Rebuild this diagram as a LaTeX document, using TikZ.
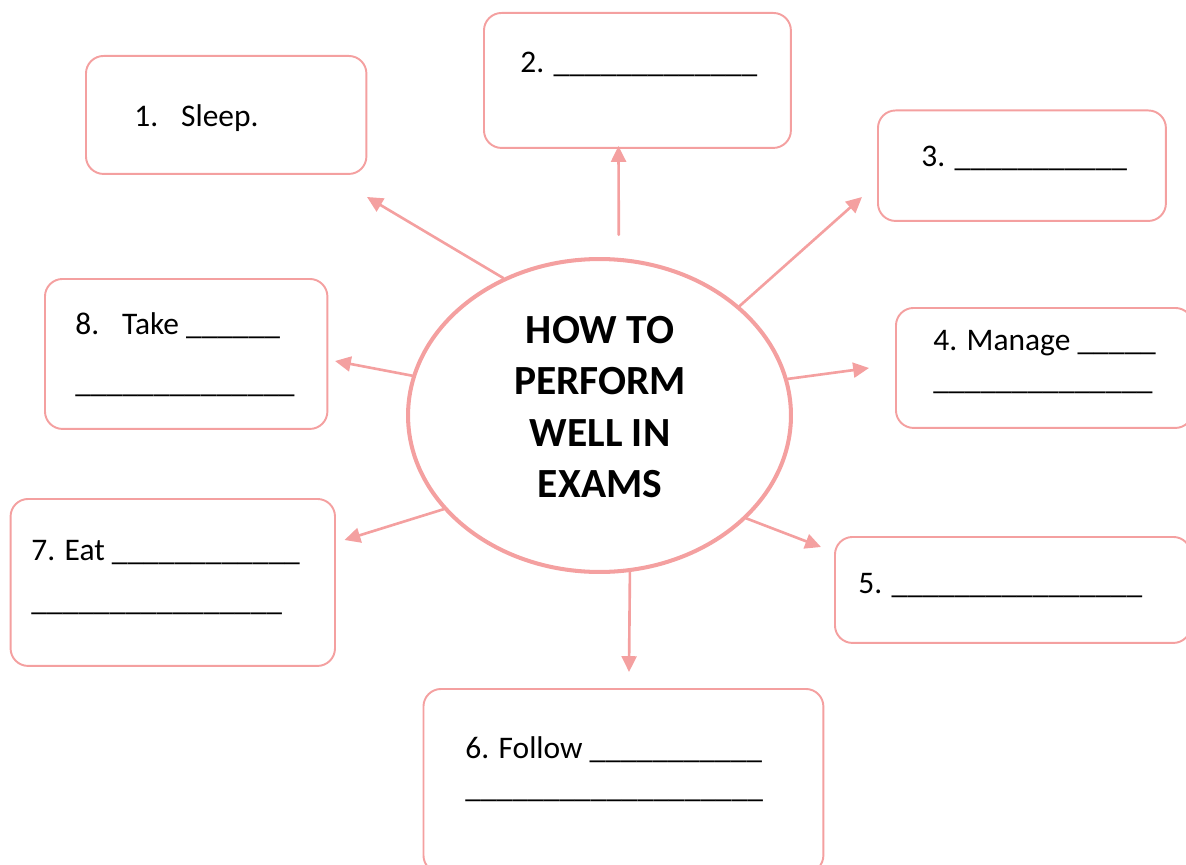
\documentclass[tikz,border=0pt]{standalone}
\usepackage{fontspec}
\setmainfont{Carlito}
\usetikzlibrary{shapes.geometric}
\usetikzlibrary{arrows.meta}
\definecolor{mappink}{RGB}{244,160,160}
\newcommand{\blanks}[1]{\foreach \k in {1,...,#1}{\_}}

\begin{document}
\begin{tikzpicture}[line cap=round,line join=round,>={Triangle[length=9pt,width=8.5pt]},x=0.02cm,y=-0.02cm,
  box/.style={draw=mappink,line width=1.1pt,rounded corners=10pt,anchor=north west,inner sep=0pt},
  hub/.style={draw=mappink,line width=2.3pt,ellipse,inner sep=0pt,minimum width=7.66cm,minimum height=6.26cm},
  item/.style={anchor=base west,align=left,inner sep=0pt,font=\fontsize{17.9}{22.4}\selectfont},
  headline/.style={align=center,inner sep=0pt,font=\fontsize{23.6}{29.2}\selectfont\bfseries},
  link/.style={->,draw=mappink,line width=1.5pt}]
\useasboundingbox (0,0) rectangle (1186,865);
\clip (0,0) rectangle (1186,865);
% the centre
\node [hub] (hub) at (599.5,415.5) {};
\node [headline] (head) at (600,407) {HOW TO\\PERFORM\\WELL IN\\EXAMS};
% the eight boxes
\node [box,minimum width=5.61cm,minimum height=2.36cm] (b1) at (85,55) {};
\node [box,minimum width=6.14cm,minimum height=2.70cm] (b2) at (483,12) {};
\node [box,minimum width=5.76cm,minimum height=2.21cm] (b3) at (877,109.5) {};
\node [box,minimum width=5.94cm,minimum height=2.40cm] (b4) at (895,307) {};
\node [box,minimum width=7.12cm,minimum height=2.12cm] (b5) at (834,536) {};
\node [box,minimum width=8.00cm,minimum height=3.68cm] (b6) at (422.5,688) {};
\node [box,minimum width=6.49cm,minimum height=3.34cm] (b7) at (9.6,498) {};
\node [box,minimum width=5.65cm,minimum height=3.00cm] (b8) at (44,278) {};
% texts (two-line ones sit on their last line)
\node [item] (t1) at (134,127) {1.\hspace{0.73em}Sleep.};
\node [item] (t2) at (520,72) {2. \blanks{13}};
\node [item] (t3) at (921,166) {3. \blanks{11}};
\node [item] (t4) at (933,389.5) {4. Manage \blanks{5}\\\blanks{14}};
\node [item] (t5) at (858,593) {5. \blanks{16}};
\node [item] (t6) at (465,797.5) {6. Follow \blanks{11}\\\blanks{19}};
\node [item] (t7) at (31,610) {7. Eat \blanks{12}\\[6pt]\blanks{16}};
\node [item] (t8) at (75,392) {8.\hspace{0.73em}Take \blanks{6}\\[10.5pt]\blanks{14}};
% arrow tips
\coordinate (tip1) at (367,197);
\coordinate (tip2) at (618.5,146);
\coordinate (tip3) at (862,197);
\coordinate (tip4) at (869,368);
\coordinate (tip5) at (821,547);
\coordinate (tip6) at (629,672);
\coordinate (tip7) at (344.5,540);
\coordinate (tip8) at (335,361);
\draw [link] (hub.125.8) -- (tip1);
\draw [link,shorten <=0.46cm] (hub.83) -- (tip2);
\draw [link] (hub.38) -- (tip3);
\draw [link] (hub.11.5) -- (tip4);
\draw [link] (hub.-35.6) -- (tip5);
\draw [link] (hub.-79.4) -- (tip6);
\draw [link] (hub.211.3) -- (tip7);
\draw [link] (hub.168.1) -- (tip8);
\end{tikzpicture}
\end{document}
